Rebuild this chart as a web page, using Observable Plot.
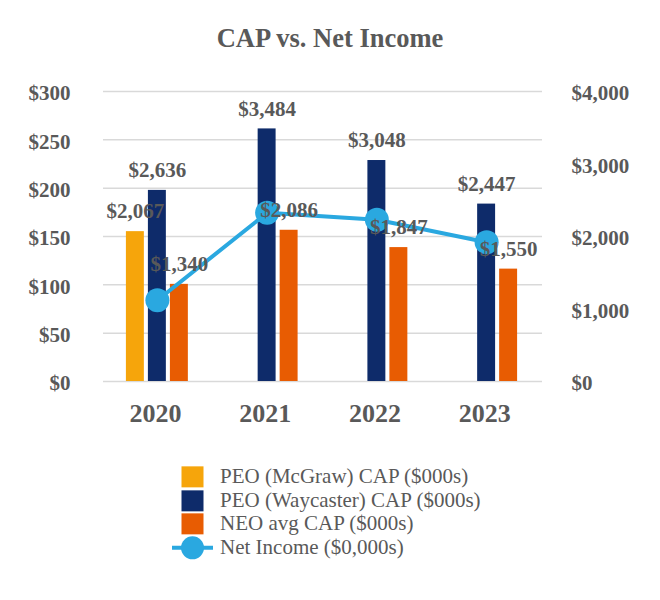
<!DOCTYPE html>
<html>
<head>
<meta charset="utf-8">
<script src="https://cdn.jsdelivr.net/npm/d3@7"></script>
<script src="https://cdn.jsdelivr.net/npm/@observablehq/plot@0.6"></script>
<style>
  body { margin: 0; background: #fff; width: 660px; }
  #title { height: 63px; padding-top: 7px; text-align: center; font: bold 26.5px "Liberation Serif", "Times New Roman", serif; color: #595959; line-height: 62px; box-sizing: content-box; }
  #chart svg { display: block; }
  #legend { padding-top: 25px; padding-left: 172px; font: 21px "Liberation Serif", "Times New Roman", serif; color: #595959; }
  .row { display: flex; align-items: center; height: 23.7px; }
  .row svg { flex: none; width: 41px; height: 23.7px; }
  .row span { margin-left: 7px; white-space: nowrap; line-height: 23.7px; }
</style>
</head>
<body>
<div id="title">CAP vs. Net Income</div>
<div id="chart"></div>
<div id="legend"></div>
<script>
// ---- data ----
const years = ["2020", "2021", "2022", "2023"];
const mcgrawCAP = [2067, null, null, null];          // $000s (secondary axis units)
const waycasterCAP = [2636, 3484, 3048, 2447];       // $000s
const neoCAP = [1340, 2086, 1847, 1550];             // $000s
const netIncome = [84, 174.5, 167.3, 144.1];          // $0,000s (primary axis units)
const leftTicks = [0, 50, 100, 150, 200, 250, 300];
const rightTicks = [0, 1000, 2000, 3000, 4000];
const seriesNames = ["PEO (McGraw) CAP ($000s)", "PEO (Waycaster) CAP ($000s)", "NEO avg CAP ($000s)", "Net Income ($0,000s)"];
const colors = ["#F6A50B", "#0E2B6A", "#E85C02", "#2AA8E0"];

// secondary axis: 4,000 on the right lines up with 300 on the left
const k = 300 / 4000;
const fmt = d3.format(",");

const mk = (arr) => years.map((year, i) => ({year, value: arr[i]})).filter(d => d.value != null);
const mc = mk(mcgrawCAP), wc = mk(waycasterCAP), ne = mk(neoCAP), ni = mk(netIncome);

const barOpts = (fill, dx) => ({x: "year", y: d => d.value * k, fill, dx: dx - 1, insetLeft: 45.9, insetRight: 45.9});
const labOpts = (dx) => ({x: "year", y: d => d.value * k, text: d => "$" + fmt(d.value), dx: dx - 1, dy: -20,
  lineAnchor: "middle", fontSize: 21, fontWeight: "bold", fill: "#595959"});

const plot = Plot.plot({
  width: 660,
  height: 370,
  marginTop: 21,
  marginBottom: 59,
  marginLeft: 103,
  marginRight: 118,
  style: "font-family: 'Liberation Serif', 'Times New Roman', serif; font-weight: bold; color: #595959; background: #fff; overflow: visible;",
  x: {domain: years, padding: 0, round: false, label: null},
  y: {domain: [0, 300], label: null},
  marks: [
    Plot.gridY(leftTicks, {stroke: "#D9D9D9", strokeOpacity: 1, strokeWidth: 1.5}),
    Plot.axisY(leftTicks, {anchor: "left", tickSize: 0, tickPadding: 33, dy: 2, fontSize: 21, fontWeight: "bold", tickFormat: d => "$" + d, label: null}),
    Plot.axisY(rightTicks.map(v => v * k), {anchor: "right", tickSize: 0, tickPadding: 29, dy: 2, fontSize: 21, fontWeight: "bold", tickFormat: d => "$" + fmt(Math.round(d / k)), label: null}),
    Plot.axisX({tickSize: 0, tickPadding: 22, fontSize: 26, fontWeight: "bold", dx: -3, label: null}),
    Plot.barY(mc, barOpts(colors[0], -22)),
    Plot.barY(wc, barOpts(colors[1], 0)),
    Plot.barY(ne, barOpts(colors[2], 22)),
    Plot.line(ni, {x: "year", y: "value", stroke: colors[3], strokeWidth: 4, dx: -1}),
    Plot.dot(ni, {x: "year", y: "value", r: 12, fill: colors[3], stroke: "none", dx: -1}),
    Plot.text(mc, labOpts(-22)),
    Plot.text(wc, labOpts(0)),
    Plot.text(ne, labOpts(22))
  ]
});
document.getElementById("chart").appendChild(plot);

// ---- legend ----
const legend = d3.select("#legend");
seriesNames.forEach((name, i) => {
  const row = legend.append("div").attr("class", "row");
  const s = row.append("svg");
  if (i < 3) {
    s.append("rect").attr("x", 9.5).attr("y", 1.35).attr("width", 22).attr("height", 21).attr("fill", colors[i]);
  } else {
    s.append("line").attr("x1", 0).attr("x2", 41).attr("y1", 11.85).attr("y2", 11.85).attr("stroke", colors[i]).attr("stroke-width", 4);
    s.append("circle").attr("cx", 20.5).attr("cy", 11.85).attr("r", 11.5).attr("fill", colors[i]);
  }
  row.append("span").text(name);
});
</script>
</body>
</html>
